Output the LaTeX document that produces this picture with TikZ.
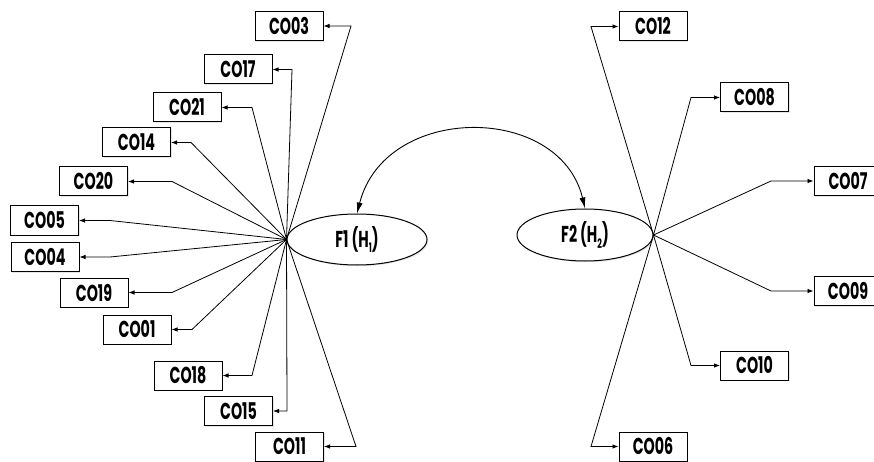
\documentclass[tikz,border=0pt]{standalone}
\usepackage{fontspec}
\setmainfont{Poppins}[FakeStretch=0.62]
\usetikzlibrary{shapes.geometric,arrows.meta,shadows}
\begin{document}
\begin{tikzpicture}[x=1pt,y=-1pt,
  cobox/.style={draw=black,line width=1pt,fill=white,minimum width=68pt,minimum height=29pt,inner sep=0pt,
    font=\fontsize{23}{26}\selectfont\bfseries,
    drop shadow={opacity=0.2,shadow xshift=1.2pt,shadow yshift=-1.2pt}},
  factor/.style={ellipse,draw=black,line width=1pt,fill=white,inner sep=0pt,
    font=\fontsize{23}{26}\selectfont\bfseries,
    drop shadow={opacity=0.2,shadow xshift=1.2pt,shadow yshift=-1.2pt}},
  link/.style={draw=black,line width=0.8pt,-{Latex[length=6pt,width=4.5pt]}},
  corr/.style={draw=black,line width=0.9pt,{Latex[length=11pt,width=6pt]}-{Latex[length=11pt,width=6pt]}}
]
\useasboundingbox (0,0) rectangle (874,462);
\newcommand{\sbs}[1]{\raisebox{-0.22em}{\fontsize{13}{13}\selectfont #1}}
% factors
\node[factor,minimum width=140pt,minimum height=51pt] (F1) at (357,239.5) {F1 (H\sbs{1})};
\node[factor,minimum width=136pt,minimum height=52pt] (F2) at (585,235) {F2 (H\sbs{2})};
% left boxes
\node[cobox] (CO03) at (289,26) {CO03};
\node[cobox] (CO17) at (238,69.5) {CO17};
\node[cobox] (CO21) at (187,107.5) {CO21};
\node[cobox] (CO14) at (136.5,142.5) {CO14};
\node[cobox] (CO20) at (93.5,181.5) {CO20};
\node[cobox] (CO05) at (44.5,220.5) {CO05};
\node[cobox] (CO04) at (45,257) {CO04};
\node[cobox] (CO19) at (94,292.5) {CO19};
\node[cobox] (CO01) at (137,329.5) {CO01};
\node[cobox] (CO18) at (188,375.5) {CO18};
\node[cobox] (CO15) at (238.5,411) {CO15};
\node[cobox] (CO11) at (289.5,446.5) {CO11};
% right boxes
\node[cobox] (CO12) at (653,26.5) {CO12};
\node[cobox] (CO08) at (754.5,97.5) {CO08};
\node[cobox] (CO07) at (848,181) {CO07};
\node[cobox] (CO09) at (848,291) {CO09};
\node[cobox] (CO10) at (754.5,365.5) {CO10};
\node[cobox] (CO06) at (653,446.5) {CO06};
% left connectors
\draw[link] (F1.west) -- (351,26) -- (CO03.east);
\draw[link] (F1.west) -- (292,69.5) -- (CO17.east);
\draw[link] (F1.west) -- (252,107.5) -- (CO21.east);
\draw[link] (F1.west) -- (191,142.5) -- (CO14.east);
\draw[link] (F1.west) -- (172,181.5) -- (CO20.east);
\draw[link] (F1.west) -- (110,220.5) -- (CO05.east);
\draw[link] (F1.west) -- (110,257) -- (CO04.east);
\draw[link] (F1.west) -- (172,292.5) -- (CO19.east);
\draw[link] (F1.west) -- (192,329.5) -- (CO01.east);
\draw[link] (F1.west) -- (252,375.5) -- (CO18.east);
\draw[link] (F1.west) -- (287,411) -- (CO15.east);
\draw[link] (F1.west) -- (356,446.5) -- (CO11.east);
% right connectors
\draw[link] (F2.east) -- (591,26.5) -- (CO12.west);
\draw[link] (F2.east) -- (691,97.5) -- (CO08.west);
\draw[link] (F2.east) -- (771,181) -- (CO07.west);
\draw[link] (F2.east) -- (771,291) -- (CO09.west);
\draw[link] (F2.east) -- (691,365.5) -- (CO10.west);
\draw[link] (F2.east) -- (591,446.5) -- (CO06.west);
% correlation
\draw[corr] (F1.north) .. controls (385,103) and (560,103) .. (F2.north);
\end{tikzpicture}
\end{document}
